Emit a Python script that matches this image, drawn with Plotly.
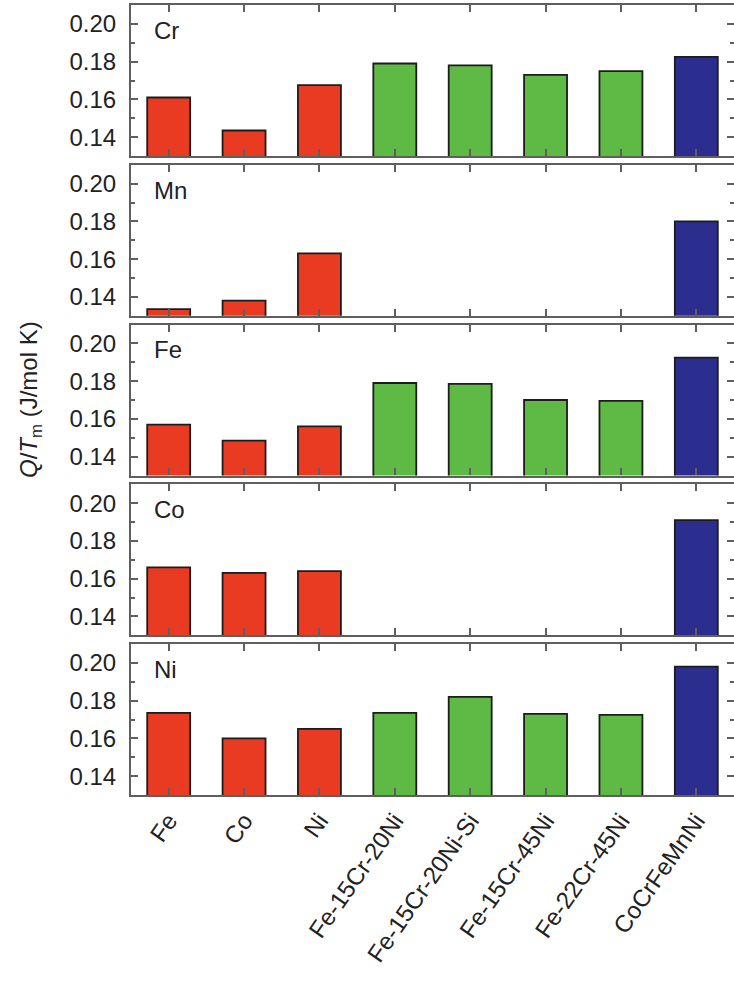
import plotly.graph_objects as go

categories = ["Fe", "Co", "Ni", "Fe-15Cr-20Ni", "Fe-15Cr-20Ni-Si",
              "Fe-15Cr-45Ni", "Fe-22Cr-45Ni", "CoCrFeMnNi"]
panels = ["Cr", "Mn", "Fe", "Co", "Ni"]

cr_vals = [0.161, 0.1435, 0.1675, 0.179, 0.178, 0.173, 0.175, 0.1825]
mn_vals = [0.1335, 0.138, 0.163, None, None, None, None, 0.180]
fe_vals = [0.157, 0.1485, 0.156, 0.179, 0.1785, 0.170, 0.1695, 0.1925]
co_vals = [0.166, 0.163, 0.164, None, None, None, None, 0.191]
ni_vals = [0.1735, 0.160, 0.165, 0.1735, 0.182, 0.173, 0.1725, 0.198]
series = [cr_vals, mn_vals, fe_vals, co_vals, ni_vals]

groups = ["pure", "pure", "pure", "alloy", "alloy", "alloy", "alloy", "hea"]
group_colors = {"pure": "#E93B22", "alloy": "#5FBA45", "hea": "#2C2E8F"}

y_range = [0.13, 0.21]
y_ticks = [0.14, 0.16, 0.18, 0.20]
y_ticktext = ["0.14", "0.16", "0.18", "0.20"]
y_title = "<i>Q</i>/<i>T</i><sub>m</sub> (J/mol K)"

FONT = "Liberation Sans, Arial, sans-serif"
W, H = 734, 983
ML, MR, MT, MB = 131, 0, 5, 188
plot_h = H - MT - MB
panel_h = 151
pitch = 159.75

fig = go.Figure()
colors = [group_colors[g] for g in groups]

for i, (name, vals) in enumerate(zip(panels, series)):
    ax = "" if i == 0 else str(i + 1)
    fig.add_trace(go.Bar(
        x=categories, y=vals, xaxis="x" + ax, yaxis="y" + ax,
        marker=dict(color=colors, line=dict(color="#1c1c1c", width=1.8)),
        width=0.57, showlegend=False,
    ))
    top = i * pitch
    d1 = 1 - top / plot_h
    d0 = max(0, 1 - (top + panel_h) / plot_h)
    common_line = dict(showline=True, mirror="ticks", linecolor="#5f5f5f",
                       linewidth=2.2, ticks="inside", tickcolor="#5f5f5f",
                       tickwidth=1.5, zeroline=False, showgrid=False)
    fig.layout["yaxis" + ax] = dict(
        domain=[d0, d1], range=y_range, anchor="x" + ax,
        tickvals=y_ticks, ticktext=y_ticktext, ticklen=7,
        tickfont=dict(family=FONT, size=24, color="#222"),
        ticklabelstandoff=8,
        minor=dict(dtick=0.01, tick0=0.13, ticks="inside", ticklen=4,
                   tickcolor="#5f5f5f", tickwidth=1.5, showgrid=False),
        **common_line,
    )
    fig.layout["xaxis" + ax] = dict(
        domain=[0, 1], anchor="y" + ax, type="category",
        categoryorder="array", categoryarray=categories,
        range=[-0.5, len(categories) - 0.5], ticklen=7,
        showticklabels=(i == len(panels) - 1),
        tickangle=-55,
        tickfont=dict(family=FONT, size=24, color="#222"),
        **common_line,
    )
    fig.add_annotation(
        text=name, xref=("x" + ax) + " domain", yref=("y" + ax) + " domain",
        x=0.035, y=1, xanchor="left", yanchor="top", yshift=-10,
        showarrow=False, font=dict(family=FONT, size=24, color="#222"),
    )

fig.add_annotation(
    text=y_title, xref="paper", yref="paper",
    x=(30 - ML) / (W - ML - MR), y=0.5, textangle=-90,
    xanchor="center", yanchor="middle", showarrow=False,
    font=dict(family=FONT, size=24, color="#222"),
)

fig.update_layout(
    width=W, height=H, autosize=False,
    margin=dict(l=ML, r=MR, t=MT, b=MB, autoexpand=False),
    plot_bgcolor="white", paper_bgcolor="white",
    bargap=0.43,
)

fig.write_html("out.html")
